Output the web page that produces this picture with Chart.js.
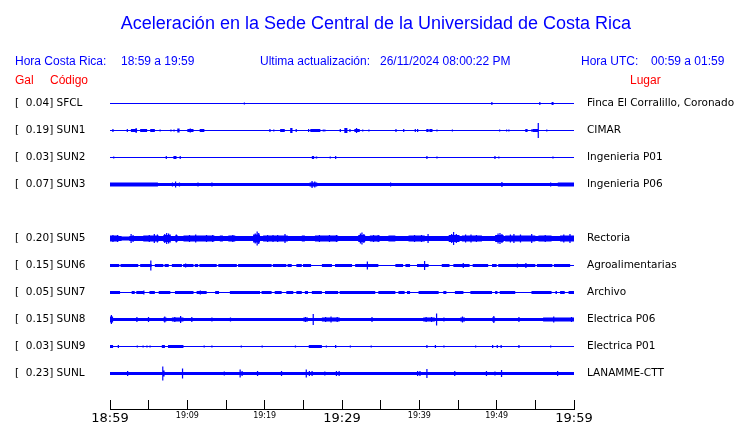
<!DOCTYPE html>
<html><head><meta charset="utf-8">
<script src="https://cdn.jsdelivr.net/npm/chart.js@4/dist/chart.umd.min.js"></script>
<style>
html,body{margin:0;padding:0;background:#fff;}
#wrap{position:relative;width:740px;height:423px;overflow:hidden;background:#fff;}
canvas{position:absolute;left:0;top:0;}
.t{position:absolute;white-space:pre;font-family:"Liberation Sans",Arial,sans-serif;line-height:1;}
.b{color:#0000ff;font-size:12px;}
.r{color:#ff0000;font-size:12px;}
</style></head><body>
<div id="wrap">
<canvas id="c" width="740" height="423"></canvas>
<div class="t" style="left:0;width:752px;text-align:center;top:14px;font-size:18px;color:#0000ff">Aceleración en la Sede Central de la Universidad de Costa Rica</div>
<div class="t b" style="left:15px;top:55px">Hora Costa Rica:</div>
<div class="t b" style="left:121px;top:55px">18:59 a 19:59</div>
<div class="t b" style="left:260px;top:55px">Ultima actualización:</div>
<div class="t b" style="left:380px;top:55px">26/11/2024 08:00:22 PM</div>
<div class="t b" style="left:581px;top:55px">Hora UTC:</div>
<div class="t b" style="left:651px;top:55px">00:59 a 01:59</div>
<div class="t r" style="left:15px;top:74px">Gal</div>
<div class="t r" style="left:50px;top:74px">Código</div>
<div class="t r" style="left:630px;top:74px">Lugar</div>
</div>
<script>
// ---------------- data ----------------
const codes  = ["SFCL","SUN1","SUN2","SUN3","SUN4","SUN5","SUN6","SUN7","SUN8","SUN9","SUNL"];
const peakGal = [0.04, 0.19, 0.03, 0.07, null, 0.20, 0.15, 0.05, 0.15, 0.03, 0.23];
const places = ["Finca El Corralillo, Coronado","CIMAR","Ingenieria P01","Ingenieria P06","",
                "Rectoria","Agroalimentarias","Archivo","Electrica P06","Electrica P01","LANAMME-CTT"];
const timeLabels = ["18:59","19:09","19:19","19:29","19:39","19:49","19:59"]; // every 10 min
// trace envelopes: base half-amplitude and events [start min, end min, half-amplitude]
const baseAmp = [0.5, 0.5, 0.5, 1.5, null, 2.5, 1.5, 0.5, 1.5, 0.5, 1.5];
const evSFCL = [[17.3,17.43,1],[49.3,49.43,1.5],[55.5,55.63,1.5],[57.1,57.36,1.5]];
const evSUN1 = [[0.3,0.43,1.5],[2.16,2.29,1.5],[2.7,3.5,1.5],[3.3,3.43,2.5],[3.9,4.8,1.5],[5.2,5.8,1.5],[6.4,6.53,1],[7.8,7.93,1],[8.2,8.33,1],[8.7,9.0,2],[10.0,10.8,1.5],[10.3,10.43,2],[11.6,12.2,1.5],[20.6,20.73,1.5],[21.1,21.23,1],[22.0,22.6,1.5],[23.3,23.6,2.5],[24.0,24.13,1.5],[25.6,25.73,1.5],[25.9,27.2,1.5],[27.5,27.63,1],[27.7,27.83,1],[29.7,29.83,1.5],[30.3,30.7,2.5],[30.95,31.08,1.5],[31.6,32.3,1.5],[31.8,31.93,2.5],[32.6,32.73,1],[33.4,33.53,1],[36.9,37.03,1.5],[37.9,38.03,1.5],[39.4,39.53,1.5],[39.7,39.83,1.5],[40.9,41.2,1.5],[41.3,41.7,1.5],[42.2,42.33,1],[44.2,44.33,1],[50.3,50.43,1],[51.2,51.33,1],[51.5,51.63,1],[53.7,54.0,1.5],[54.5,54.63,1.5],[54.7,55.4,1.5],[55.3,55.43,7.5],[56.4,56.53,1]];
const evSUN2 = [[0.4,0.53,1],[7.2,7.33,1.5],[8.2,8.6,1.5],[9.0,9.13,1.5],[26.1,26.4,1.5],[26.6,26.8,1],[28.4,28.53,1],[29.1,29.23,1.5],[40.9,41.03,1.5],[42.2,42.33,1],[49.7,49.83,1.5],[50.2,50.33,1],[57.2,57.33,1]];
const evSUN3 = [[0,6.2,2],[8.0,8.13,2],[8.4,8.53,3],[8.9,9.03,2],[11.3,11.43,2],[13.1,13.23,2],[25.8,26.8,2],[26.05,26.18,3.5],[26.4,26.53,3],[36.2,36.33,2],[50.6,50.73,2.5],[56.9,57.03,2],[57.9,60,2]];
const evSUN4 = [];
const evSUN5 = [[0,1.1,3],[0.3,0.43,3.5],[0.9,1.03,3.5],[1.5,2.5,2],[2.65,2.78,4.5],[2.9,3.03,3.5],
  [4.3,6.3,3],[5.0,5.13,3.5],[5.65,5.78,4.5],[6.05,6.18,4],
  [6.9,7.8,3.5],[7.0,7.13,4.5],[7.25,7.38,5.5],[7.5,7.63,5],[7.7,7.83,4],
  [8.4,8.8,3],[8.5,8.63,4],[9.5,13.5,3],[10.2,10.33,3.5],[11.0,11.13,4],[12.4,12.53,3.5],[13.2,13.33,3.5],
  [14.2,14.6,3],[15.3,16.2,3],[15.8,15.93,3.5],
  [18.5,19.4,4],[18.7,18.83,5],[18.95,19.08,7],[19.15,19.28,5.5],
  [19.8,23.0,3],[20.3,20.43,3.5],[21.0,21.13,3.5],[21.6,21.73,3.5],[22.55,22.68,4.5],
  [24.8,25.2,3],[26.5,29.5,3],[27.0,27.13,3.5],[28.3,28.43,3.5],[29.2,29.33,3.5],
  [32.1,33.0,3.5],[32.3,32.43,5],[32.5,32.63,6],[32.75,32.88,4.5],
  [33.6,34.9,3],[34.0,34.13,3.5],[34.6,34.73,3.5],
  [36.0,36.9,3],[38.6,40.7,3],[39.3,39.43,3.5],[40.2,40.33,3.5],[41.05,41.18,4.5],
  [43.8,45.2,3.5],[44.1,44.23,4.5],[44.35,44.48,6.5],[44.7,44.83,4.5],
  [45.5,48.1,3],[45.9,46.03,4],[46.6,46.73,4],[47.3,47.43,3.5],
  [49.8,50.9,3.5],[50.1,50.23,5],[50.35,50.48,5.5],[50.6,50.73,4.5],
  [51.1,55.0,3],[51.7,51.83,4],[52.15,52.28,4.5],[53.0,53.13,4],[54.45,54.58,4.5],
  [55.4,57.1,3],[56.2,56.33,3.5],[58.2,60,3],[58.6,58.73,4],[59.4,59.53,4.5]];
const evSUN6 = [[1.2,1.35,0.5],[3.65,3.9,0.5],[5.4,5.8,0.5],[6.9,7.0,0.5],[7.6,8.0,0.5],[9.3,9.4,0.5],[10.8,10.9,0.5],[11.4,11.5,0.5],[13.8,14.0,0.5],[16.4,16.5,0.5],[20.9,21.0,0.5],[22.8,22.9,0.5],[23.5,24.1,0.5],[24.8,24.9,0.5],[26.0,27.4,0.5],[28.7,29.1,0.5],[31.3,31.7,0.5],[34.7,36.9,0.5],[37.9,38.2,0.5],[38.8,39.7,0.5],[41.2,42.9,0.5],[43.9,44.4,0.5],[46.5,46.9,0.5],[48.9,49.4,0.5],[50.0,50.2,0.5],[55.0,55.2,0.5],[57.2,57.4,0.5],[59.5,60,0.5],
  [5.2,5.33,5],[9.7,9.83,2],[33.2,33.33,4],[40.6,40.73,4.5],[45.6,45.73,2.5],[52.6,52.73,2],[53.7,53.83,2.5]];
const evSUN7 = [[0,1.3,1.5],[2.8,3.2,1.5],[3.4,4.3,1.5],[5.1,5.8,1.5],[6.3,7.8,1.5],[8.4,10.8,1.5],[11.2,12.5,1.5],[13.6,14.1,1.5],[15.5,19.4,1.5],[19.6,20.9,1.5],[21.3,22.2,1.5],[22.8,23.7,1.5],[24.1,24.8,1.5],[25.2,25.6,1.5],[26.1,27.4,1.5],[27.8,29.5,1.5],[29.7,34.3,1.5],[34.7,36.9,1.5],[37.3,38.1,1.5],[38.4,38.8,1.5],[39.9,42.5,1.5],[43.1,43.5,1.5],[44.6,45.7,1.5],[46.6,49.4,1.5],[49.8,50.1,1.5],[50.4,52.4,1.5],[54.5,57.1,1.5],[57.6,57.8,1.5],[58.2,58.8,1.5],[59.3,60,1.5],[4.3,4.43,2],[11.6,11.73,2]];
const evSUN8 = [[0,0.4,3],[0.1,0.23,4.5],[3.4,3.53,2.5],[4.9,5.03,2.5],[6.9,7.3,2],[7.0,7.13,3],[8.0,9.5,2],[8.3,8.43,2.5],[9.05,9.18,3.5],[10.5,10.63,2.5],[13.1,13.23,2],[15.5,15.63,2],
  [25.0,25.6,2],[25.2,25.33,2.5],[26.2,26.33,5.5],[27.4,29.7,2],[27.8,27.93,2.5],[28.5,28.63,3],[29.3,29.43,2.5],[33.8,33.93,2.5],
  [40.5,42.0,2],[40.8,40.93,2.5],[41.5,41.63,2.5],[42.15,42.28,6],[43.1,43.23,2],[45.3,45.9,2],[45.5,45.63,3],[49.4,49.8,2],[49.55,49.68,3.5],[52.8,52.93,2.5],[56,60,2],[57.3,57.43,3],[59.6,59.73,2.5]];
const evSUN9 = [[0,0.4,1.5],[1.0,1.13,1.5],[3.45,3.58,1],[4.2,4.33,1],[4.7,4.83,1],[5.1,5.23,1],[6.7,7.1,1.5],[7.5,9.5,1.5],[12.1,12.23,1],[13.1,13.23,1],[16.9,17.03,1],[19.6,19.73,1],[23.9,24.03,1],[25.7,27.4,1.5],[27.9,28.03,1],[29.1,29.23,1.5],[31.0,31.13,1],[33.7,33.83,1],[40.9,41.03,1.5],[42.0,42.13,1.5],[43.1,43.23,1],[47.2,47.33,1],[49.4,49.53,1.5],[50.0,50.13,1.5],[50.5,50.63,1.5],[52.8,52.93,1.5],[56.9,57.03,1]];
const evSUNL = [[2.2,2.33,2.5],[6.75,6.88,7],[6.9,7.03,3],[9.3,9.43,5],[14.7,14.83,2],[16.75,16.88,4],[17.0,17.13,2.5],[19.0,19.13,2.5],[22.1,22.23,2.5],[25.3,25.43,4],[25.7,25.83,2.5],[26.05,26.18,2.5],[27.7,27.83,2],[29.2,29.33,2.5],[29.55,29.68,2.5],[39.7,39.83,2.5],[40.0,40.13,2.5],[40.9,41.03,4.5],[44.5,44.63,2.5],[48.6,48.73,2.5],[49.7,49.83,2],[50.55,50.68,3.5],[57.8,57.93,2.5]];
const events = [evSFCL, evSUN1, evSUN2, evSUN3, evSUN4, evSUN5, evSUN6, evSUN7, evSUN8, evSUN9, evSUNL];

// ---------------- build ----------------
const N = codes.length;
const AMP_PER_ROW = 27;
const T0 = 0, T1 = 60;
const MIN_W = 0.16; // narrowest drawn mark, about one pixel
function envelope(base, evs){
  const ev = evs.map(e => [e[0], Math.min(T1, Math.max(e[1], e[0] + MIN_W)), e[2]]);
  const set = new Set([T0, T1]);
  ev.forEach(e => { set.add(e[0]); set.add(e[1]); });
  const xs = [...set].sort((a,b)=>a-b);
  const out = [];
  for (let i=0;i<xs.length;i++){
    let a = base;
    if (i < xs.length-1){
      const mid = (xs[i]+xs[i+1])/2;
      ev.forEach(e => { if (mid>=e[0] && mid<e[1]) a = e[2]; });
    } else a = out[out.length-1].a;
    out.push({t: xs[i], a});
  }
  return out;
}
const datasets = [];
for (let i=0;i<N;i++){
  if (baseAmp[i] === null) continue;
  const row = N-1-i;
  const env = envelope(baseAmp[i], events[i]);
  const common = {borderWidth:0, pointRadius:0, stepped:true, tension:0, backgroundColor:'#0000ff', borderColor:'#0000ff'};
  datasets.push(Object.assign({label: codes[i]+'+', data: env.map(p=>({x:p.t, y: row + p.a/AMP_PER_ROW})), fill:false}, common));
  datasets.push(Object.assign({label: codes[i]+'-', data: env.map(p=>({x:p.t, y: row - p.a/AMP_PER_ROW})), fill:'-1'}, common));
}
const rowVals = codes.map((c,i)=>N-1-i);
const yMin = -35.5/27, yMax = yMin + 12;
function leftLabel(i){ return peakGal[i]===null ? '' : '[  ' + peakGal[i].toFixed(2) + '] ' + codes[i]; }
function noPad(s){ s.paddingTop = 0; s.paddingBottom = 0; s.paddingLeft = 0; s.paddingRight = 0; }
const yCommon = {
  type:'linear', min:yMin, max:yMax,
  grid:{display:false, drawTicks:false}, border:{display:false},
  afterBuildTicks: s => { s.ticks = rowVals.map(v=>({value:v})); }
};
new Chart(document.getElementById('c'), {
  type:'line',
  data:{datasets},
  options:{
    responsive:false, animation:false, devicePixelRatio:1,
    layout:{padding:{left:15, right:0, top:85, bottom:0}},
    plugins:{legend:{display:false}, tooltip:{enabled:false}, title:{display:false}},
    scales:{
      x:{type:'linear', position:'bottom', min:T0, max:T1,
         afterFit: s => { s.height = 14; noPad(s); },
         grid:{drawOnChartArea:false, drawTicks:true, tickLength:-9, color:'#000', lineWidth:1},
         border:{display:true, color:'#000', width:1},
         ticks:{stepSize:5, autoSkip:false, maxRotation:0, color:'#000', padding:11,
           callback: v => (v % 10 === 0) ? timeLabels[v/10] : '',
           font: ctx => ({family:'DejaVu Sans', size: (ctx.tick && ctx.tick.value % 30 === 0) ? 13 : 8})}},
      y: Object.assign({}, yCommon, {position:'left',
         afterFit: s => { s.width = 95; noPad(s); },
         ticks:{crossAlign:'far', color:'#000', font:{family:'DejaVu Sans', size:10.5},
           callback: v => leftLabel(N-1-v)}}),
      y2: Object.assign({}, yCommon, {position:'right',
         afterFit: s => { s.width = 166; noPad(s); },
         ticks:{padding:13, color:'#000', font:{family:'DejaVu Sans', size:10.5},
           callback: v => places[N-1-v]}})
    }
  }
});
</script>
</body></html>
